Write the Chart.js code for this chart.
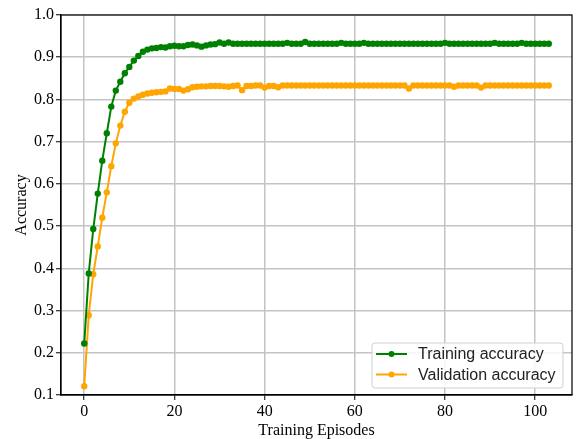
<!DOCTYPE html>
<html>
<head>
<meta charset="utf-8">
<script src="https://cdn.jsdelivr.net/npm/chart.js@4.4.1/dist/chart.umd.min.js"></script>
<style>
  html, body { margin: 0; padding: 0; background: #fff; }
  #wrap { width: 580px; height: 439px; }
</style>
</head>
<body>
<div id="wrap"><canvas id="accChart" width="580" height="439"></canvas></div>
<script>
// Accuracy per training episode
const trainAcc = [
    0.222, 0.388, 0.493, 0.577, 0.655, 0.720, 0.783, 0.821, 0.842, 0.862,
    0.877, 0.892, 0.903, 0.913, 0.918, 0.921, 0.922, 0.924, 0.923, 0.926,
    0.927, 0.926, 0.926, 0.929, 0.930, 0.928, 0.925, 0.928, 0.930, 0.931,
    0.935, 0.932, 0.935, 0.932, 0.932, 0.932, 0.932, 0.932, 0.932, 0.932,
    0.932, 0.932, 0.932, 0.932, 0.932, 0.934, 0.932, 0.932, 0.932, 0.936,
    0.932, 0.932, 0.932, 0.932, 0.932, 0.932, 0.932, 0.934, 0.932, 0.932,
    0.932, 0.932, 0.934, 0.932, 0.932, 0.932, 0.932, 0.932, 0.932, 0.932,
    0.932, 0.932, 0.932, 0.932, 0.932, 0.932, 0.932, 0.932, 0.932, 0.932,
    0.934, 0.932, 0.932, 0.932, 0.932, 0.932, 0.932, 0.932, 0.932, 0.932,
    0.932, 0.934, 0.932, 0.932, 0.932, 0.932, 0.932, 0.934, 0.932, 0.932,
    0.932, 0.932, 0.932, 0.932
];

const valAcc = [
    0.121, 0.289, 0.386, 0.452, 0.520, 0.580, 0.642, 0.696, 0.738, 0.771,
    0.792, 0.802, 0.807, 0.811, 0.814, 0.816, 0.817, 0.818, 0.819, 0.826,
    0.825, 0.825, 0.821, 0.824, 0.829, 0.830, 0.831, 0.831, 0.832, 0.832,
    0.832, 0.831, 0.830, 0.832, 0.833, 0.822, 0.832, 0.832, 0.833, 0.833,
    0.828, 0.832, 0.832, 0.829, 0.833, 0.833, 0.833, 0.833, 0.833, 0.833,
    0.833, 0.833, 0.833, 0.833, 0.833, 0.833, 0.833, 0.833, 0.833, 0.833,
    0.833, 0.833, 0.833, 0.833, 0.833, 0.833, 0.833, 0.833, 0.833, 0.833,
    0.833, 0.833, 0.826, 0.833, 0.833, 0.833, 0.833, 0.833, 0.833, 0.833,
    0.833, 0.833, 0.830, 0.833, 0.833, 0.833, 0.833, 0.833, 0.828, 0.833,
    0.833, 0.833, 0.833, 0.833, 0.833, 0.833, 0.833, 0.833, 0.833, 0.833,
    0.833, 0.833, 0.833, 0.833
];

const seriesNames = ['Training accuracy', 'Validation accuracy'];
const xTicks = [0, 20, 40, 60, 80, 100];
const yTicks = [0.1, 0.2, 0.3, 0.4, 0.5, 0.6, 0.7, 0.8, 0.9, 1.0];

const GREEN = '#008000';
const ORANGE = '#ffa500';
const SERIF = "'Liberation Serif', 'Times New Roman', serif";
const SANS = "'Liberation Sans', Arial, sans-serif";

function toPoints(values) {
    return values.map((v, i) => ({ x: i, y: v }));
}

// box around the plot area (matplotlib style spines)
const frameBox = {
    id: 'frameBox',
    afterDraw(chart) {
        const { ctx, chartArea: a } = chart;
        ctx.save();
        ctx.strokeStyle = '#000';
        ctx.lineWidth = 1.2;
        ctx.strokeRect(a.left, a.top, a.right - a.left, a.bottom - a.top);
        ctx.restore();
    }
};

// legend in the lower right corner, inside the axes
const insideLegend = {
    id: 'insideLegend',
    afterDraw(chart) {
        const { ctx, chartArea: a } = chart;
        const boxW = 191, boxH = 45;
        const x0 = a.right - 9 - boxW;
        const y0 = a.bottom - 7 - boxH;
        ctx.save();
        ctx.fillStyle = 'rgba(255,255,255,0.85)';
        ctx.strokeStyle = '#d0d0d0';
        ctx.lineWidth = 1;
        ctx.beginPath();
        ctx.roundRect(x0, y0, boxW, boxH, 3);
        ctx.fill();
        ctx.stroke();

        ctx.font = '16px ' + SANS;
        ctx.textBaseline = 'middle';
        chart.data.datasets.forEach((ds, i) => {
            const y = y0 + 11 + i * 20.5;
            ctx.strokeStyle = ds.borderColor;
            ctx.lineWidth = 2;
            ctx.beginPath();
            ctx.moveTo(x0 + 4, y);
            ctx.lineTo(x0 + 35, y);
            ctx.stroke();
            ctx.fillStyle = ds.borderColor;
            ctx.beginPath();
            ctx.arc(x0 + 19.5, y, 3, 0, Math.PI * 2);
            ctx.fill();
            ctx.fillStyle = '#222';
            ctx.fillText(ds.label, x0 + 46, y + 1);
        });
        ctx.restore();
    }
};

new Chart(document.getElementById('accChart').getContext('2d'), {
    type: 'line',
    data: {
        datasets: [{
            label: seriesNames[0],
            data: toPoints(trainAcc),
            borderColor: GREEN,
            backgroundColor: GREEN,
            borderWidth: 2,
            pointRadius: 3.2,
            pointBorderWidth: 0,
            tension: 0
        }, {
            label: seriesNames[1],
            data: toPoints(valAcc),
            borderColor: ORANGE,
            backgroundColor: ORANGE,
            borderWidth: 2,
            pointRadius: 3.2,
            pointBorderWidth: 0,
            tension: 0
        }]
    },
    options: {
        responsive: false,
        animation: false,
        layout: { padding: { left: 0, top: 15, right: 8, bottom: 0 } },
        plugins: {
            legend: { display: false },
            tooltip: { enabled: false }
        },
        scales: {
            x: {
                type: 'linear',
                min: -5.15,
                max: 108.15,
                afterBuildTicks: scale => { scale.ticks = xTicks.map(v => ({ value: v })); },
                afterFit: scale => { scale.height = 44; },
                ticks: {
                    color: '#000',
                    font: { family: SERIF, size: 16 },
                    padding: 2,
                    maxRotation: 0
                },
                grid: {
                    color: '#c4c4c4',
                    lineWidth: 1.5,
                    tickColor: '#000',
                    tickLength: 5,
                    tickWidth: 1
                },
                border: { color: '#000', width: 1.2 },
                title: {
                    display: true,
                    text: 'Training Episodes',
                    color: '#000',
                    font: { family: SERIF, size: 16, lineHeight: 1.0 },
                    padding: { top: 0, bottom: 0 }
                }
            },
            y: {
                min: 0.1,
                max: 1.0,
                afterBuildTicks: scale => { scale.ticks = yTicks.map(v => ({ value: v })); },
                afterFit: scale => { scale.width = 61; },
                ticks: {
                    color: '#000',
                    font: { family: SERIF, size: 16 },
                    padding: 2,
                    callback: v => v.toFixed(1)
                },
                grid: {
                    color: '#c4c4c4',
                    lineWidth: 1.5,
                    tickColor: '#000',
                    tickLength: 5,
                    tickWidth: 1
                },
                border: { color: '#000', width: 1.2 },
                title: {
                    display: true,
                    text: 'Accuracy',
                    color: '#000',
                    font: { family: SERIF, size: 16 },
                    padding: { top: 12, bottom: 0 }
                }
            }
        }
    },
    plugins: [frameBox, insideLegend]
});
</script>
</body>
</html>
